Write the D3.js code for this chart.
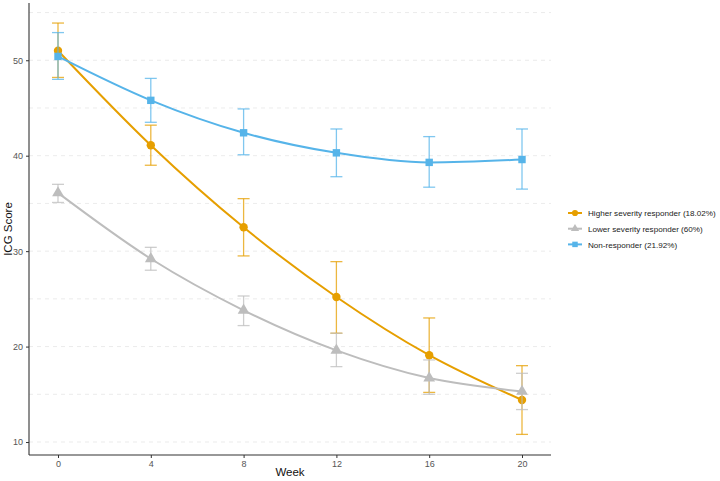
<!DOCTYPE html>
<html><head><meta charset="utf-8">
<script src="https://cdn.jsdelivr.net/npm/d3@7"></script>
<style>body{margin:0;background:#fff;} text{font-family:"Liberation Sans",Arial,sans-serif;}</style>
</head><body>
<svg id="c" width="720" height="481"></svg>
<script>
const weeks = [0, 4, 8, 12, 16, 20];
const seriesNames = ["Higher severity responder (18.02%)", "Lower severity responder (60%)", "Non-responder (21.92%)"];
const seriesColors = ["#E69F00", "#BDBDBD", "#56B4E9"];
const seriesShapes = ["circle", "triangle", "square"];
const higherMean = [51.0, 41.1, 32.5, 25.2, 19.1, 14.4];
const higherLow  = [48.2, 39.0, 29.5, 21.4, 15.2, 10.8];
const higherHigh = [53.9, 43.2, 35.5, 28.9, 23.0, 18.0];
const lowerMean = [36.1, 29.2, 23.8, 19.6, 16.7, 15.3];
const lowerLow  = [35.1, 28.0, 22.2, 17.9, 15.0, 13.4];
const lowerHigh = [37.0, 30.4, 25.3, 21.4, 18.6, 17.2];
const nonMean = [50.4, 45.8, 42.4, 40.3, 39.3, 39.6];
const nonLow  = [48.0, 43.5, 40.1, 37.8, 36.7, 36.5];
const nonHigh = [52.9, 48.1, 44.9, 42.8, 42.0, 42.8];
const yTicks = [10, 20, 30, 40, 50];
const yGrid = [10, 15, 20, 25, 30, 35, 40, 45, 50, 55];

const series = [
  {name: seriesNames[0], color: seriesColors[0], shape: seriesShapes[0], mean: higherMean, lo: higherLow, hi: higherHigh},
  {name: seriesNames[1], color: seriesColors[1], shape: seriesShapes[1], mean: lowerMean, lo: lowerLow, hi: lowerHigh},
  {name: seriesNames[2], color: seriesColors[2], shape: seriesShapes[2], mean: nonMean, lo: nonLow, hi: nonHigh}
];

const svg = d3.select("#c");
const L = 29, R = 551, T = 3, B = 455;
const x = d3.scaleLinear().domain([-1.25, 21.25]).range([L, R]);
const y = d3.scaleLinear().domain([8.64, 56.0]).range([B, T]);

// grid
svg.append("g").selectAll("line").data(yGrid).join("line")
  .attr("x1", L).attr("x2", R).attr("y1", d => y(d)).attr("y2", d => y(d))
  .attr("stroke", "#e6e6e6").attr("stroke-width", 0.8).attr("stroke-dasharray", "4,4");

// axes
const xAxis = d3.axisBottom(x).tickValues(weeks).tickSize(3).tickPadding(3);
const gx = svg.append("g").attr("transform", `translate(0,${B})`).call(xAxis);
gx.select(".domain").attr("d", `M${L},0H${R}`).attr("stroke", "#333").attr("stroke-width", 1.1);
gx.selectAll(".tick line").attr("stroke", "#333");
gx.selectAll("text").attr("fill", "#555").attr("font-size", 9).attr("font-family", "Liberation Sans, Arial, sans-serif");

const yAxis = d3.axisLeft(y).tickValues(yTicks).tickSize(3).tickPadding(3);
const gy = svg.append("g").attr("transform", `translate(${L},0)`).call(yAxis);
gy.select(".domain").attr("d", `M0,${T}V${B}`).attr("stroke", "#333").attr("stroke-width", 1.1);
gy.selectAll(".tick line").attr("stroke", "#333");
gy.selectAll("text").attr("fill", "#555").attr("font-size", 9).attr("font-family", "Liberation Sans, Arial, sans-serif");

svg.append("text").attr("x", (L + R) / 2).attr("y", 476).attr("text-anchor", "middle")
  .attr("font-size", 11.5).attr("fill", "#111").text("Week");
svg.append("text").attr("transform", `translate(12,${(T + B) / 2}) rotate(-90)`).attr("text-anchor", "middle")
  .attr("font-size", 11.5).attr("fill", "#111").text("ICG Score");

const line = d3.line().x((d, i) => x(weeks[i])).y(d => y(d)).curve(d3.curveMonotoneX);
const capW = 6;

function symbolPath(shape, size) {
  const t = shape === "circle" ? d3.symbolCircle : shape === "triangle" ? d3.symbolTriangle : d3.symbolSquare;
  return d3.symbol().type(t).size(size)();
}

series.forEach(s => {
  const g = svg.append("g");
  weeks.forEach((w, i) => {
    const eg = g.append("g").attr("stroke", s.color).attr("stroke-opacity", 0.75).attr("stroke-width", 1.3);
    eg.append("line").attr("x1", x(w)).attr("x2", x(w)).attr("y1", y(s.lo[i])).attr("y2", y(s.hi[i]));
    eg.append("line").attr("x1", x(w) - capW).attr("x2", x(w) + capW).attr("y1", y(s.lo[i])).attr("y2", y(s.lo[i]));
    eg.append("line").attr("x1", x(w) - capW).attr("x2", x(w) + capW).attr("y1", y(s.hi[i])).attr("y2", y(s.hi[i]));
  });
  g.append("path").attr("d", line(s.mean)).attr("fill", "none").attr("stroke", s.color).attr("stroke-width", 2);
  g.selectAll(".pt").data(s.mean).join("path")
    .attr("transform", (d, i) => `translate(${x(weeks[i])},${y(d)})`)
    .attr("d", symbolPath(s.shape, s.shape === "triangle" ? 60 : 55))
    .attr("fill", s.color);
});

// legend
const lg = svg.append("g");
const texts = [];
series.forEach((s, i) => {
  const yy = 213 + i * 15.7;
  lg.append("line").attr("x1", 568).attr("x2", 582).attr("y1", yy).attr("y2", yy)
    .attr("stroke", s.color).attr("stroke-width", 2);
  lg.append("path").attr("transform", `translate(575,${yy})`).attr("d", symbolPath(s.shape, 30)).attr("fill", s.color);
  texts.push(lg.append("text").attr("x", 588).attr("y", yy + 3.2).attr("font-size", 9).attr("fill", "#222").text(s.name));
});
const w0 = texts[0].node().getComputedTextLength();
const fs = Math.min(9, 9 * 128 / w0);
texts.forEach(t => t.attr("font-size", fs));
</script>
</body></html>
